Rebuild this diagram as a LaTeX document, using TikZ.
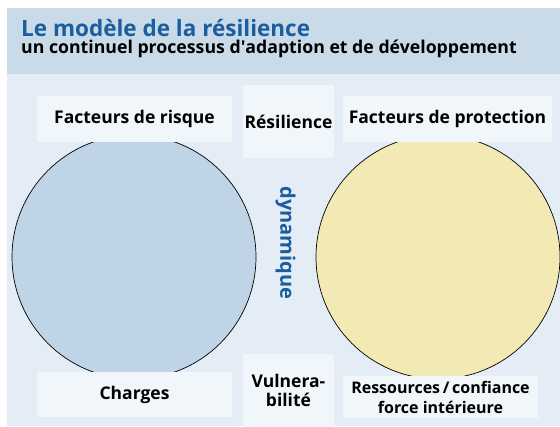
\documentclass[tikz,border=0pt]{standalone}
\usepackage{fontspec}
\setmainfont{Open Sans}
\definecolor{titleblue}{HTML}{1B5E9F}
\definecolor{headfill}{HTML}{C9DBE8}
\definecolor{bodyfill}{HTML}{E4EDF5}
\definecolor{boxfill}{HTML}{F1F6FA}
\definecolor{riskfill}{HTML}{BFD4E6}
\definecolor{protfill}{HTML}{F3E9B5}

\begin{document}
\begin{tikzpicture}[x=1pt, y=-1pt,
    box/.style={fill=boxfill, inner sep=0pt, minimum width=195pt, minimum height=46pt,
      align=center, font=\bfseries\fontsize{17.5}{19}\selectfont},
    midbox/.style={box, minimum width=91pt, minimum height=73pt},
    disc/.style={circle, draw=black, line width=0.7pt, inner sep=0pt, minimum size=244pt}]
  \useasboundingbox (0,0) rectangle (560,427);

  % Hintergrund
  \fill[bodyfill] (7,74) rectangle (560,426);
  \fill[headfill] (7,8) rectangle (560,74);
  \node[anchor=base west, inner sep=0pt, text=titleblue, font=\bfseries\fontsize{22.5}{26}\selectfont] (title) at (21,37) {Le modèle de la résilience};
  \node[anchor=base west, inner sep=0pt, font=\bfseries\fontsize{17.7}{20}\selectfont] (subtitle) at (21,54) {un continuel processus d\textquotesingle adaption et de développement};

  % Kreise
  \node[disc, fill=riskfill] (riskdisc) at (134,257) {};
  \node[disc, fill=protfill] (protdisc) at (438,257) {};

  % Felder
  \node[box] (risk) at (134.5,119) {Facteurs de risque};
  \node[midbox] (resil) at (288.5,122) {Résilience};
  \node[box, minimum width=209pt] (prot) at (447.5,119) {Facteurs de protection};
  \node[box, minimum height=45pt] (charges) at (134.5,394.5) {Charges};
  \node[midbox] (vuln) at (288.5,390.5) {Vulnera-\\bilité};
  \node[box, minimum height=42pt, font=\bfseries\fontsize{16}{20}\selectfont] (res) at (440.5,397) {Ressources\,/\,confiance\\force intérieure};

  \node[rotate=-90, text=titleblue, font=\bfseries\fontsize{20}{22}\selectfont] (dyn) at (285.5,243) {dynamique};
\end{tikzpicture}
\end{document}
